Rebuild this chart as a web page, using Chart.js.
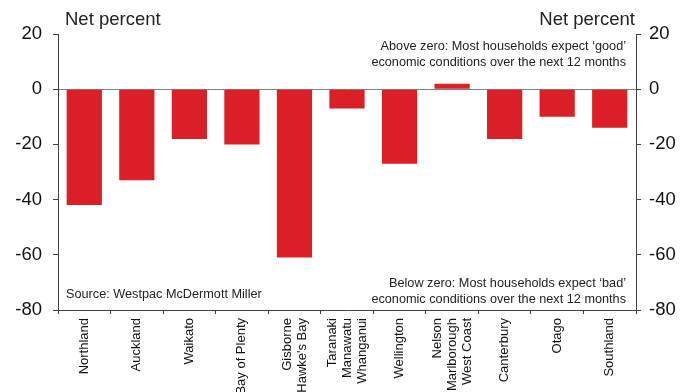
<!DOCTYPE html>
<html>
<head>
<meta charset="utf-8">
<script src="https://cdn.jsdelivr.net/npm/chart.js@4"></script>
<style>
  html, body { margin: 0; padding: 0; background: #fff; }
  #wrap { width: 694px; height: 392px; }
</style>
</head>
<body>
<div id="wrap"><canvas id="chart"></canvas></div>
<script>
// Regional household confidence, net percent
const regions = [
  "Northland", "Auckland", "Waikato", "Bay of Plenty",
  ["Gisborne", "Hawke's Bay"],
  ["Taranaki", "Manawatu", "Whanganui"],
  "Wellington",
  ["Nelson", "Marlborough", "West Coast"],
  "Canterbury", "Otago", "Southland"
];
const netPercent = [-42, -33, -18, -20, -61, -7, -27, 2, -18, -10, -14];
const yTicks = [20, 0, -20, -40, -60, -80];

const FONT = "'Liberation Sans', Arial, sans-serif";
const AXIS = "#404040";

// titles, notes and the rotated category labels
const notes = {
  id: "notes",
  afterDraw(chart) {
    const { ctx, chartArea: a } = chart;
    ctx.save();
    ctx.fillStyle = "#222";
    ctx.textBaseline = "middle";
    ctx.font = "18.5px " + FONT;
    ctx.textAlign = "left";
    ctx.fillText("Net percent", a.left + 7, a.top - 14);
    ctx.textAlign = "right";
    ctx.fillText("Net percent", a.right - 1, a.top - 14);

    ctx.font = "12.7px " + FONT;
    ctx.fillText("Above zero: Most households expect \u2018good\u2019", a.right - 10, a.top + 12);
    ctx.fillText("economic conditions over the next 12 months", a.right - 10, a.top + 28);
    ctx.fillText("Below zero: Most households expect \u2018bad\u2019", a.right - 10, a.bottom - 27);
    ctx.fillText("economic conditions over the next 12 months", a.right - 10, a.bottom - 11);
    ctx.textAlign = "left";
    ctx.fillText("Source: Westpac McDermott Miller", a.left + 8, a.bottom - 16);

    // x labels: read bottom-to-top, lines centred on the category
    const xs = chart.scales.x;
    ctx.fillStyle = "#111";
    ctx.font = "13px " + FONT;
    ctx.textAlign = "right";
    const lh = 15;
    regions.forEach((lab, i) => {
      const lines = Array.isArray(lab) ? lab : [lab];
      const cx = xs.getPixelForValue(i);
      ctx.save();
      ctx.translate(cx, a.bottom + 8);
      ctx.rotate(-Math.PI / 2);
      lines.forEach((t, j) => {
        ctx.fillText(t, 0, (j - (lines.length - 1) / 2) * lh);
      });
      ctx.restore();
    });
    ctx.restore();
  }
};

const yAxis = (position) => ({
  type: "linear",
  position,
  min: -80,
  max: 20,
  afterBuildTicks: s => { s.ticks = yTicks.map(v => ({ value: v })); },
  afterFit: s => { s.width = 58; },
  border: { color: AXIS, width: 1 },
  grid: {
    drawOnChartArea: position === "left",
    color: c => (c.tick && c.tick.value === 0 ? "#808080" : "rgba(0,0,0,0)"),
    tickColor: AXIS,
    tickLength: 5,
    lineWidth: 1
  },
  ticks: {
    color: "#111",
    padding: position === "left" ? 11 : 8,
    font: { family: FONT, size: 18.5 }
  }
});

new Chart(document.getElementById("chart"), {
  type: "bar",
  data: {
    labels: regions,
    datasets: [{
      data: netPercent,
      backgroundColor: "#DA1F26",
      barPercentage: 0.67,
      categoryPercentage: 1,
      yAxisID: "y"
    }]
  },
  options: {
    responsive: true,
    maintainAspectRatio: false,
    animation: false,
    layout: { padding: { top: 34, left: 0, right: 0, bottom: 0 } },
    plugins: {
      legend: { display: false },
      tooltip: { enabled: false }
    },
    scales: {
      x: {
        afterFit: s => { s.height = 82; },
        border: { color: AXIS, width: 1 },
        grid: {
          offset: true,
          drawOnChartArea: false,
          tickColor: AXIS,
          tickLength: 4
        },
        ticks: { display: false, autoSkip: false }
      },
      y: yAxis("left"),
      y2: yAxis("right")
    }
  },
  plugins: [notes]
});
</script>
</body>
</html>
